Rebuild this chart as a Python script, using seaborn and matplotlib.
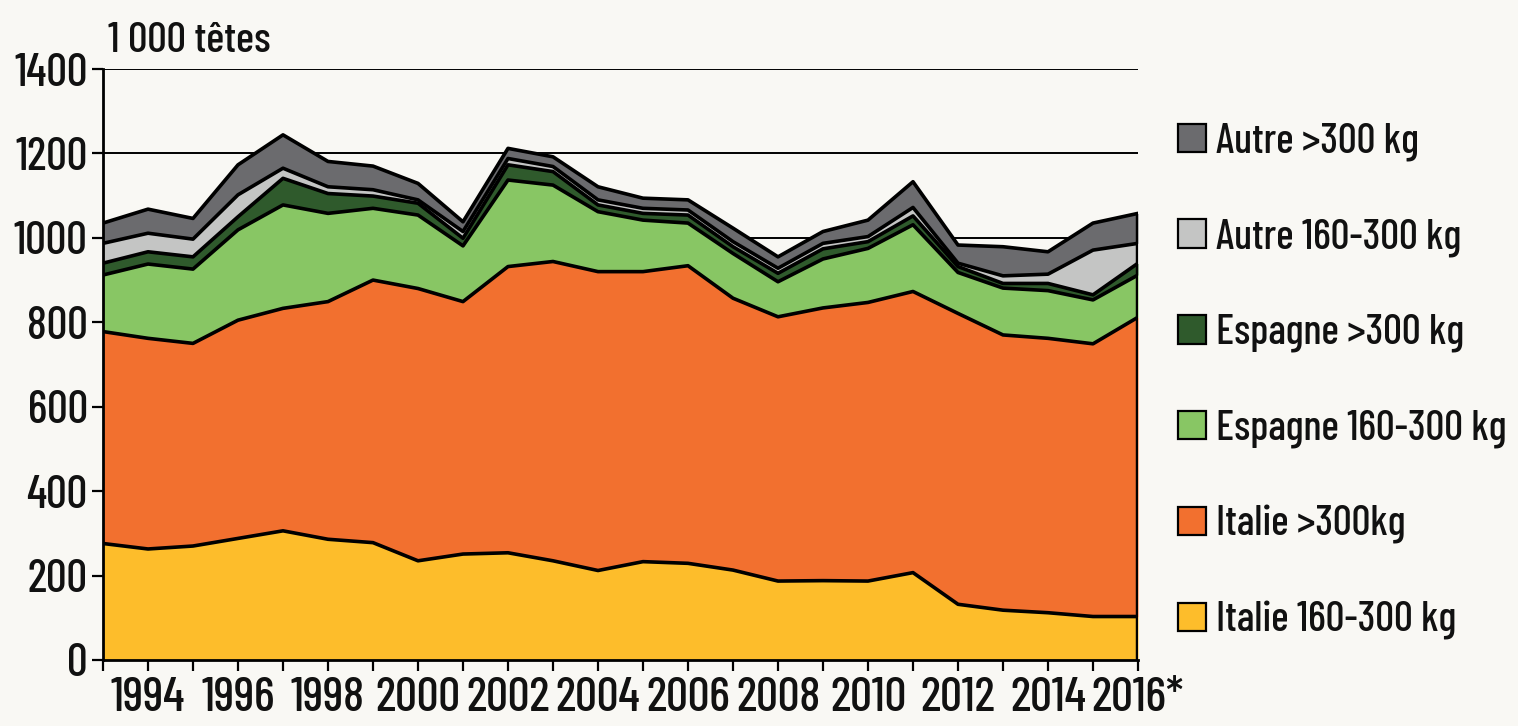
import numpy as np
import pandas as pd
import matplotlib
matplotlib.use("Agg")
import matplotlib.pyplot as plt
from matplotlib.patches import Patch
import seaborn as sns

# Import volumes by origin and weight class (1 000 head)
years = list(range(1993, 2017))
italie_160_300 = [276, 263, 270, 288, 306, 286, 278, 235, 251, 254, 235, 212,
                  233, 229, 213, 187, 188, 187, 207, 132, 118, 112, 103, 103]
italie_300 = [502, 499, 480, 517, 527, 563, 622, 645, 598, 678, 709, 708,
              687, 705, 644, 626, 646, 660, 666, 689, 652, 650, 646, 709]
espagne_160_300 = [134, 176, 176, 214, 245, 209, 170, 174, 132, 205, 181, 142,
                   122, 101, 106, 83, 116, 128, 158, 97, 111, 113, 104, 100]
espagne_300 = [28, 29, 29, 31, 63, 47, 29, 28, 18, 36, 32, 16,
               16, 19, 16, 20, 24, 16, 21, 14, 11, 17, 12, 28]
autre_160_300 = [47, 44, 42, 52, 24, 16, 15, 8, 16, 15, 12, 12,
                 12, 12, 12, 12, 13, 12, 20, 8, 18, 22, 106, 47]
autre_300 = [48, 57, 49, 71, 79, 60, 56, 39, 23, 24, 23, 31,
             24, 24, 32, 27, 28, 39, 61, 43, 69, 53, 64, 71]

series_labels = ["Italie 160-300 kg", "Italie >300kg", "Espagne 160-300 kg",
                 "Espagne >300 kg", "Autre 160-300 kg", "Autre >300 kg"]
series_values = [italie_160_300, italie_300, espagne_160_300,
                 espagne_300, autre_160_300, autre_300]
colors = ["#FDBD2B", "#F2702F", "#88C664", "#2F5A2C", "#C4C5C4", "#6B6B6E"]

tick_years = list(range(1994, 2017, 2))
tick_labels = [str(y) for y in tick_years[:-1]] + ["2016*"]
unit_label = "1 000 têtes"

bg = "#F9F8F4"
ink = "#111111"
sns.set_theme(style="ticks")
plt.rcParams["font.family"] = ["Barlow Condensed", "DejaVu Sans"]
plt.rcParams["font.weight"] = "medium"
plt.rcParams["text.color"] = ink

fig = plt.figure(figsize=(15.18, 7.26), dpi=100, facecolor=bg)
ax = fig.add_axes([103 / 1518, 1 - 660 / 726, (1138 - 103) / 1518, (660 - 69) / 726])
ax.set_facecolor(bg)

# Stacked fills
ax.stackplot(years, *series_values, colors=colors, linewidth=0, zorder=2)

# Black outline along the top of every layer
cum = np.cumsum(np.array(series_values), axis=0)
long = pd.DataFrame({
    "year": np.tile(years, len(series_labels)),
    "value": cum.ravel(),
    "layer": np.repeat(series_labels, len(years)),
})
sns.lineplot(data=long, x="year", y="value", hue="layer",
             palette=["black"] * len(series_labels), linewidth=2.6,
             legend=False, ax=ax, zorder=3, solid_joinstyle="round")
ax.vlines(years[-1], 0, cum[-1, -1], color="black", linewidth=3.2, zorder=3)

# Axes, grid and ticks
ax.set_xlim(1993, 2016)
ax.set_ylim(0, 1400)
ax.set_yticks(range(0, 1401, 200))
ax.set_xticks(years)
label_for = dict(zip(tick_years, tick_labels))
ax.set_xticklabels([label_for.get(y, "") for y in years])
ax.yaxis.grid(True, color="black", linewidth=1.4, zorder=0)
ax.set_axisbelow(True)
ax.set_xlabel("")
ax.set_ylabel("")
sns.despine(ax=ax, top=True, right=True)
for side in ("left", "bottom"):
    ax.spines[side].set_color("black")
    ax.spines[side].set_linewidth(2.0)
    ax.spines[side].set_zorder(4)
ax.tick_params(axis="both", which="major", direction="out", length=8,
               width=1.6, color="black", labelcolor=ink)
ax.tick_params(axis="y", pad=3, labelsize=33)
ax.tick_params(axis="x", pad=4, labelsize=35)

fig.text(108 / 1518, 1 - 41 / 726, unit_label, fontsize=31, va="center", ha="left")

# Legend, top layer first
handles = [Patch(facecolor=c, edgecolor="black", linewidth=1.6) for c in colors[::-1]]
fig.legend(handles, series_labels[::-1], loc="upper left",
           bbox_to_anchor=(1161 / 1518, 1 - 106 / 726), frameon=False,
           fontsize=30, handlelength=0.68, handleheight=0.68,
           handletextpad=0.24, labelspacing=1.37, borderaxespad=0)

fig.savefig("out.png", dpi=100, facecolor=bg)
